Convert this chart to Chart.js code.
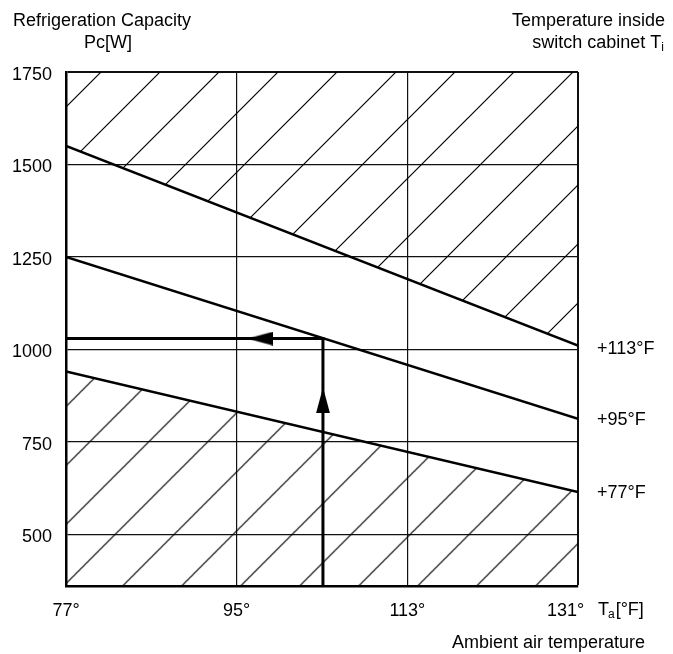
<html><head>
<meta charset="UTF-8">
<title>Refrigeration Capacity</title>
<style>
  body {
    margin: 0;
    padding: 0;
    background: white;
  }
  #wrap {
    width: 673px;
    height: 654px;
    position: relative;
  }
</style>
<script src="https://cdn.jsdelivr.net/npm/chart.js"></script>
</head>
<body>
  <div id="wrap"><canvas id="capacityChart" width="673" height="654"></canvas></div>

  <script>
    // values
    var tempTicks = [77, 95, 113, 131];              // ambient temperature Ta [°F]
    var powerTicks = [500, 750, 1000, 1250, 1500, 1750]; // Pc [W]
    var ambient = [77, 131];
    var line113 = [1550, 1010];   // Ti = +113°F
    var line95 = [1250, 812];     // Ti = +95°F
    var line77 = [940, 614];      // Ti = +77°F
    var curveLabels = ['+113°F', '+95°F', '+77°F'];
    var arrowX = [104.1, 104.1, 77];
    var arrowY = [360, 1029, 1029];
    var headX = [104.1, 97.5];
    var headY = [862, 1029];
    var headRot = [0, -90];

    var FONT = '"Liberation Sans", Arial, sans-serif';
    var FS = 18;

    function pts(xs, ys) {
      return xs.map(function (x, i) { return { x: x, y: ys[i] }; });
    }

    // diagonal hatch pattern
    function hatch(shift) {
      var s = 59;
      var c = document.createElement('canvas');
      c.width = s; c.height = s;
      var g = c.getContext('2d');
      g.strokeStyle = '#000';
      g.lineWidth = 1.2;
      g.beginPath();
      g.moveTo(-s, s); g.lineTo(s, -s);
      g.moveTo(0, s); g.lineTo(s, 0);
      g.moveTo(0, 2 * s); g.lineTo(2 * s, 0);
      g.stroke();
      var p = g.createPattern(c, 'repeat');
      p.setTransform(new DOMMatrix([1, 0, 0, 1, shift, 0]));
      return p;
    }

    // elongated arrow head, tip pointing up
    function arrowHead() {
      var c = document.createElement('canvas');
      c.width = 14; c.height = 26;
      var g = c.getContext('2d');
      g.fillStyle = '#000';
      g.beginPath();
      g.moveTo(7, 0); g.lineTo(14, 26); g.lineTo(0, 26);
      g.closePath();
      g.fill();
      return c;
    }

    var textPlugin = {
      id: 'texts',
      afterDraw: function (chart) {
        var ctx = chart.ctx;
        var ys = chart.scales.y;
        var xs = chart.scales.x;
        var big = FS + 'px ' + FONT;
        var small = '12px ' + FONT;
        ctx.save();
        ctx.fillStyle = '#000';
        ctx.font = big;
        ctx.textBaseline = 'middle';

        ctx.textAlign = 'left';
        ctx.fillText('Refrigeration Capacity', 13, 21);
        ctx.textAlign = 'center';
        ctx.fillText('Pc[W]', 108, 43);

        ctx.textAlign = 'right';
        ctx.fillText('Temperature inside', 665, 21);
        ctx.font = small;
        ctx.fillText('i', 664, 48);
        var w = ctx.measureText('i').width;
        ctx.font = big;
        ctx.fillText('switch cabinet T', 664 - w, 43);

        // curve labels at the right ends
        var ends = [line113[1], line95[1], line77[1]];
        var nudge = [3, 1, 1];
        ctx.textAlign = 'left';
        curveLabels.forEach(function (t, i) {
          ctx.fillText(t, xs.right + 19, ys.getPixelForValue(ends[i]) + nudge[i]);
        });

        // x axis unit and title
        var bx = 598, by = 610;
        ctx.fillText('T', bx, by);
        var tw = ctx.measureText('T').width;
        ctx.font = small;
        ctx.fillText('a', bx + tw - 1, by + 5);
        var aw = ctx.measureText('a').width;
        ctx.font = big;
        ctx.fillText('[°F]', bx + tw + aw, by);
        ctx.textAlign = 'right';
        ctx.fillText('Ambient air temperature', 645, 643);
        ctx.restore();
      }
    };

    var ctx = document.getElementById('capacityChart').getContext('2d');
    var chart = new Chart(ctx, {
      type: 'line',
      data: {
        datasets: [{
          label: 'arrow heads',
          data: pts(headX, headY),
          showLine: false,
          pointStyle: arrowHead(),
          rotation: headRot,
          pointRadius: 8
        }, {
          label: 'reading',
          data: pts(arrowX, arrowY),
          borderColor: '#000',
          borderWidth: 3,
          pointRadius: 0,
          fill: false
        }, {
          label: curveLabels[0],
          data: pts(ambient, line113),
          borderColor: '#000',
          borderWidth: 2.5,
          pointRadius: 0,
          fill: 'end',
          backgroundColor: hatch(55)
        }, {
          label: curveLabels[1],
          data: pts(ambient, line95),
          borderColor: '#000',
          borderWidth: 2.5,
          pointRadius: 0,
          fill: false
        }, {
          label: curveLabels[2],
          data: pts(ambient, line77),
          borderColor: '#000',
          borderWidth: 2.5,
          pointRadius: 0,
          fill: 'start',
          backgroundColor: hatch(0.5)
        }]
      },
      options: {
        responsive: false,
        animation: false,
        events: [],
        layout: { padding: { top: 72, right: 95, left: 0, bottom: 0 } },
        plugins: {
          legend: { display: false },
          tooltip: { enabled: false }
        },
        scales: {
          x: {
            type: 'linear',
            min: 77,
            max: 131,
            afterBuildTicks: function (s) { s.ticks = tempTicks.map(function (v) { return { value: v }; }); },
            afterFit: function (s) { s.height = 68; },
            grid: {
              drawTicks: false,
              color: '#111',
              lineWidth: function (c) { return c.tick && c.tick.value === 131 ? 2 : 1.2; }
            },
            border: { color: '#000', width: 2.5 },
            ticks: {
              color: '#000',
              padding: 14,
              font: { family: FONT, size: FS },
              callback: function (v) { return v === 131 ? v + '°     ' : v + '°'; }
            }
          },
          y: {
            type: 'linear',
            min: 360,
            max: 1750,
            afterBuildTicks: function (s) { s.ticks = powerTicks.map(function (v) { return { value: v }; }); },
            afterFit: function (s) { s.width = 66; },
            grid: {
              drawTicks: false,
              color: '#111',
              lineWidth: function (c) { return c.tick && c.tick.value === 1750 ? 2 : 1.3; }
            },
            border: { color: '#000', width: 2.5 },
            ticks: {
              color: '#000',
              padding: 14,
              labelOffset: 3,
              font: { family: FONT, size: FS },
              callback: function (v) { return String(v); }
            }
          }
        }
      },
      plugins: [textPlugin]
    });
  </script>
</body>
</html>
